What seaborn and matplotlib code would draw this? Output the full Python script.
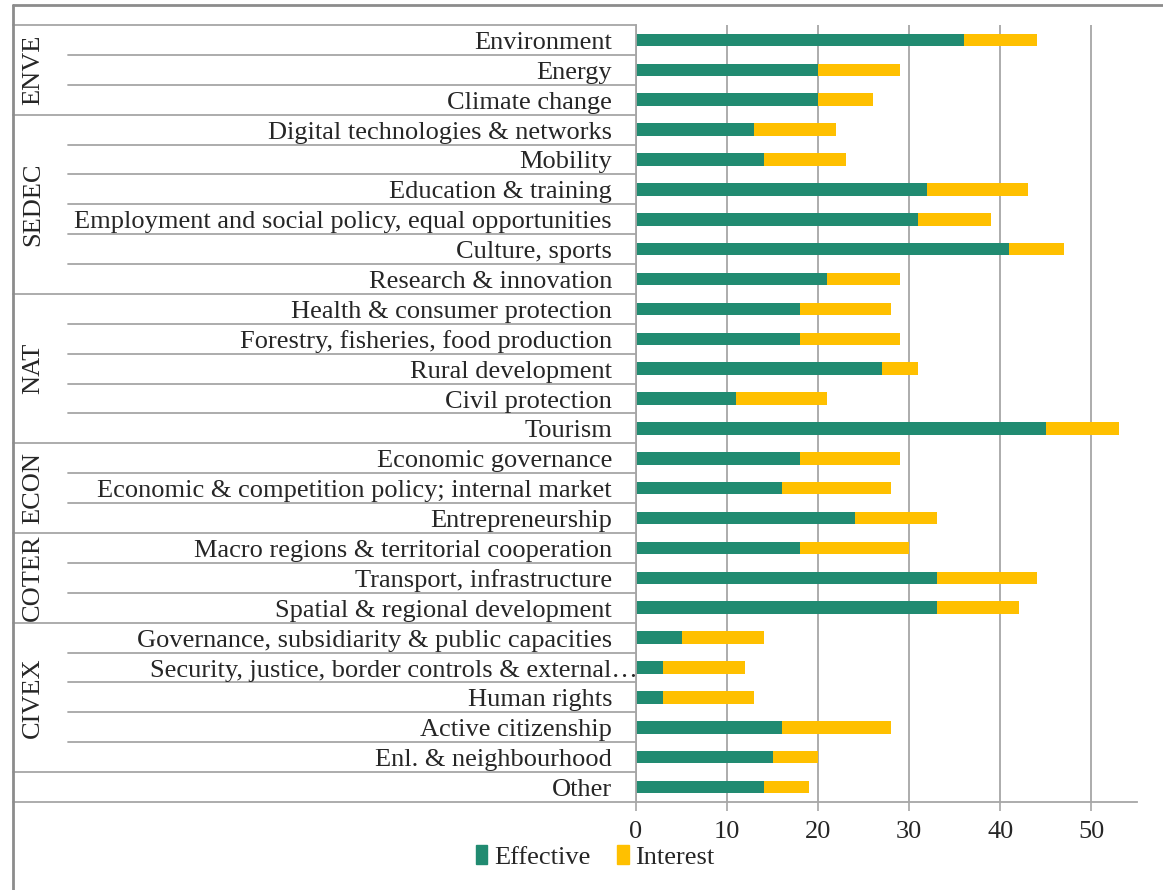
"""
Stacked horizontal bars: effective vs. interest per topic, grouped by commission.
Saves out.png (1163x890).
"""

import matplotlib
matplotlib.use("Agg")
import matplotlib.pyplot as plt
import matplotlib.transforms as mtransforms
from matplotlib.lines import Line2D
from matplotlib.patches import Patch
import pandas as pd
import seaborn as sns

# ---------- data ----------
topics = [
    "Environment", "Energy", "Climate change",
    "Digital technologies & networks", "Mobility", "Education & training",
    "Employment and social policy, equal opportunities", "Culture, sports",
    "Research & innovation",
    "Health & consumer protection", "Forestry, fisheries, food production",
    "Rural development", "Civil protection", "Tourism",
    "Economic governance", "Economic & competition policy; internal market",
    "Entrepreneurship",
    "Macro regions & territorial cooperation", "Transport, infrastructure",
    "Spatial & regional development",
    "Governance, subsidiarity & public capacities",
    "Security, justice, border controls & external\u2026",
    "Human rights", "Active citizenship", "Enl. & neighbourhood",
    "Other",
]
effective = [36, 20, 20, 13, 14, 32, 31, 41, 21,
             18, 18, 27, 11, 45, 18, 16, 24,
             18, 33, 33, 5, 3, 3, 16, 15, 14]
interest = [8, 9, 6, 9, 9, 11, 8, 6, 8,
            10, 11, 4, 10, 8, 11, 12, 9,
            12, 11, 9, 9, 9, 10, 12, 5, 5]
group_names = ["ENVE", "SEDEC", "NAT", "ECON", "COTER", "CIVEX", ""]
group_sizes = [3, 6, 5, 3, 3, 5, 1]

GREEN = "#218B71"
YELLOW = "#FFC000"
LINE = "#A6A6A6"
W, H = 1163, 890


def main():
    df = pd.DataFrame({"topic": topics, "effective": effective, "interest": interest})
    df["total"] = df["effective"] + df["interest"]

    sns.set_theme(style="white")
    plt.rcParams["font.family"] = ["Liberation Serif", "DejaVu Serif"]
    fs = 19

    fig = plt.figure(figsize=(W / 100, H / 100), dpi=100)
    ax = fig.add_axes([636 / W, 1 - 802 / H, (1137 - 636) / W, (802 - 25) / H])

    # stacked bars: total in yellow, effective in green on top
    sns.barplot(data=df, x="total", y="topic", color=YELLOW, saturation=1,
                width=0.42, orient="h", ax=ax, linewidth=0)
    sns.barplot(data=df, x="effective", y="topic", color=GREEN, saturation=1,
                width=0.42, orient="h", ax=ax, linewidth=0)

    ax.set_xlim(0, 55)
    ax.set_xticks(range(0, 51, 10))
    ax.set_ylim(len(topics) - 0.5, -0.5)
    ax.set_yticks([])
    ax.set_xlabel("")
    ax.set_ylabel("")
    ax.xaxis.grid(True, color=LINE, lw=1.3)
    ax.set_axisbelow(True)
    for side in ["top", "right"]:
        ax.spines[side].set_visible(False)
    for side in ["left", "bottom"]:
        ax.spines[side].set_color(LINE)
        ax.spines[side].set_linewidth(1.3)
    ax.tick_params(axis="x", bottom=True, length=6.5, width=1.2, color=LINE,
                   labelsize=fs, pad=7)

    # ---------- category table on the left ----------
    trans = mtransforms.blended_transform_factory(fig.transFigure, ax.transData)
    x_left, x_inner, x_axis = 13 / W, 68 / W, 636 / W
    ax.plot([x_left, x_axis], [-0.5, -0.5], color=LINE, lw=1.3,
            transform=trans, clip_on=False)
    start = 0
    for name, size in zip(group_names, group_sizes):
        end = start + size
        ax.plot([x_left, x_axis], [end - 0.5, end - 0.5], color=LINE, lw=1.3,
                transform=trans, clip_on=False)
        for k in range(start + 1, end):
            ax.plot([x_inner, x_axis], [k - 0.5, k - 0.5], color=LINE, lw=1.3,
                    transform=trans, clip_on=False)
        if name:
            ax.text(33 / W, (start + end - 1) / 2, name, rotation=90,
                    ha="center", va="center", fontsize=fs, transform=trans)
        start = end

    for i, t in enumerate(topics):
        x_txt = 638 / W if t.endswith("\u2026") else 612 / W
        ax.text(x_txt, i + 0.1, t, ha="right", va="center", fontsize=fs,
                transform=trans)

    # outer chart frame (only top and left edges visible)
    fig.add_artist(Line2D([13 / W, 13 / W], [0, 1 - 5 / H], color="#8C8C8C", lw=2))
    fig.add_artist(Line2D([13 / W, 1], [1 - 5 / H, 1 - 5 / H], color="#8C8C8C", lw=2))

    # legend
    handles = [Patch(color=GREEN, label="Effective"),
               Patch(color=YELLOW, label="Interest")]
    fig.legend(handles=handles, loc="center", ncol=2, frameon=False,
               bbox_to_anchor=(595 / W, 1 - 857 / H), fontsize=fs,
               handlelength=0.45, handleheight=0.7, handletextpad=0.25,
               columnspacing=1.0)

    fig.savefig("out.png", dpi=100)
    plt.close(fig)


if __name__ == "__main__":
    main()
